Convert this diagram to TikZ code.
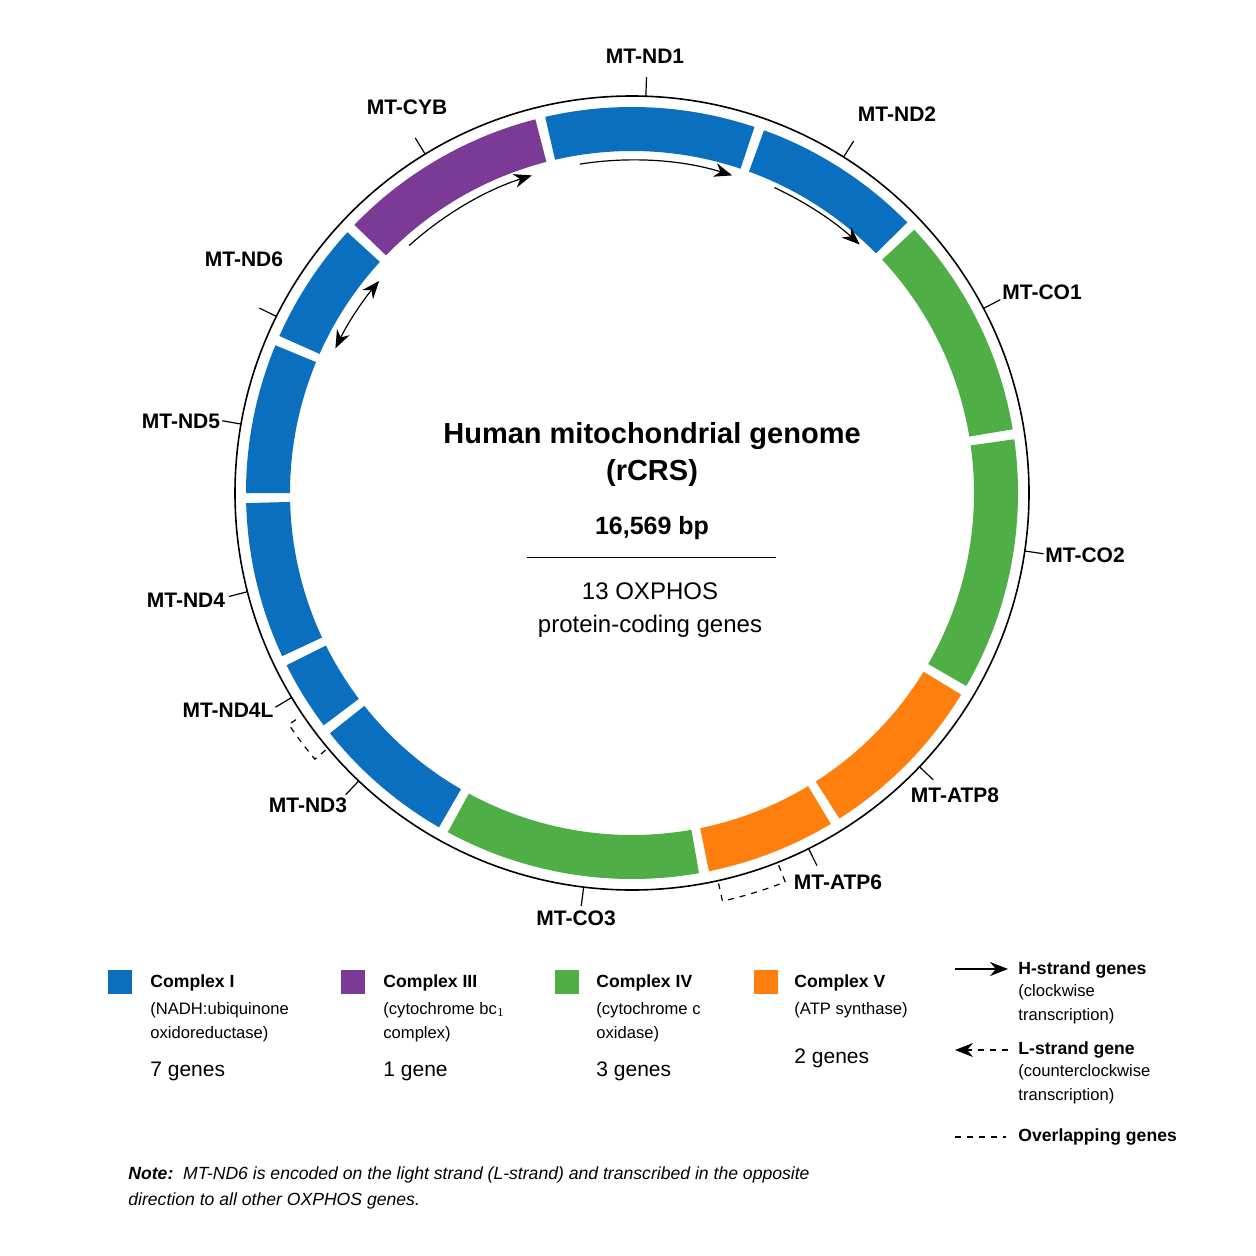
\documentclass[tikz,border=0pt]{standalone}
\usepackage{fontspec}
\setmainfont{Liberation Sans}
\usetikzlibrary{arrows.meta, calc}
\definecolor{cI}{HTML}{0A6FBF}
\definecolor{cIII}{HTML}{7B3A96}
\definecolor{cIV}{HTML}{50AE47}
\definecolor{cV}{HTML}{FF7F0E}

\begin{document}
\begin{tikzpicture}[x=0.5pt, y=-0.5pt,
					>={Stealth[length=9pt, width=7pt]},
					genelabel/.style={font=\fontsize{10.5}{13}\selectfont\bfseries},
					legtitle/.style={font=\fontsize{8.8}{11}\selectfont\bfseries, anchor=west, inner sep=0pt},
					legtext/.style={font=\fontsize{8.3}{12}\selectfont, anchor=north west, align=left, inner sep=0pt},
					legcount/.style={font=\fontsize{10.5}{12}\selectfont, anchor=west, inner sep=0pt},
					tick/.style={semithick},
					strand/.style={->, semithick}]

	\useasboundingbox (0,0) rectangle (1255,1256);
	\coordinate (c) at (632,493);

	% outer ring of the genome
	\draw[thick] (c) circle[radius=397];

	% gene blocks: start angle / end angle / colour
	\foreach \s/\e/\col in {-103/-71.5/cI, -70/-44.5/cI, -43/-9.5/cIV, -8/30/cIV,
			31.5/57.5/cV, 59/78.5/cV, 80/118.5/cIV, 120/141.5/cI, 143/153.5/cI,
			155/178.5/cI, 180/202.5/cI, 204/222.5/cI, 224/255.5/cIII}
		\fill[\col] ($(c)+(\s:386)$) arc[start angle=\s, end angle=\e, radius=386]
			-- ($(c)+(\e:342)$) arc[start angle=\e, end angle=\s, radius=342] -- cycle;

	% gene labels and their ticks
	\node[genelabel] (nd1)  at (645,56)  {MT-ND1};
	\node[genelabel] (nd2)  at (897,114) {MT-ND2};
	\node[genelabel] (co1)  at (1042,292) {MT-CO1};
	\node[genelabel] (co2)  at (1085,555) {MT-CO2};
	\node[genelabel] (atp8) at (955,795) {MT-ATP8};
	\node[genelabel] (atp6) at (838,882) {MT-ATP6};
	\node[genelabel] (co3)  at (576,918) {MT-CO3};
	\node[genelabel] (nd3)  at (308,805) {MT-ND3};
	\node[genelabel] (nd4l) at (228,710) {MT-ND4L};
	\node[genelabel] (nd4)  at (186,600) {MT-ND4};
	\node[genelabel] (nd5)  at (181,421) {MT-ND5};
	\node[genelabel] (nd6)  at (244,259) {MT-ND6};
	\node[genelabel] (cyb)  at (407,107) {MT-CYB};
	\foreach \a in {-88, -57.8, -27.7, 8.4, 43.6, 63.6, 97, 133.5, 149, 165.6, 190, 206.4, 238.6}
		\draw[tick] ($(c)+(\a:397)$) -- ($(c)+(\a:416)$);

	% overlapping genes
	\draw[dashed, semithick] ($(c)+(140:400)$) -- ($(c)+(140:414)$)
		arc[start angle=140, end angle=146, radius=414] -- ($(c)+(146:400)$);
	\draw[dashed, semithick] ($(c)+(68.5:400)$) -- ($(c)+(68.5:418)$)
		arc[start angle=68.5, end angle=77.5, radius=418] -- ($(c)+(77.5:400)$);

	% direction of transcription
	\draw[strand] ($(c)+(-99:333)$) arc[start angle=-99, end angle=-72.5, radius=333];
	\draw[strand] ($(c)+(-65:337)$) arc[start angle=-65, end angle=-47.5, radius=337];
	\draw[strand] ($(c)+(-132:333)$) arc[start angle=-132, end angle=-107.5, radius=333];
	\draw[strand, <->] ($(c)+(-154:330)$) arc[start angle=-154, end angle=-140, radius=330];

	% centre
	\node[font=\fontsize{14.5}{18.5}\selectfont\bfseries, align=center] (title) at (652,455)
		{Human mitochondrial genome\\(rCRS)};
	\node[font=\fontsize{12.5}{15}\selectfont\bfseries] (bp) at (652,528) {16,569 bp};
	\coordinate (rulel) at (527,557);
	\coordinate (ruler) at (776,557);
	\draw (rulel) -- (ruler);
	\node[font=\fontsize{12}{16.5}\selectfont, align=center] (oxphos) at (650,610)
		{13 OXPHOS\\protein-coding genes};

	% legend
	\fill[cI]   (108,970) rectangle (132,994);
	\fill[cIII] (341,970) rectangle (365,994);
	\fill[cIV]  (555,970) rectangle (579,994);
	\fill[cV]   (754,970) rectangle (778,994);
	\node[legtitle] (lg1) at (150,983) {Complex I};
	\node[legtitle] (lg3) at (383,983) {Complex III};
	\node[legtitle] (lg4) at (596,983) {Complex IV};
	\node[legtitle] (lg5) at (794,983) {Complex V};
	\node[legtext] (lt1) at (150,1002) {(NADH:ubiquinone\\oxidoreductase)};
	\node[legtext] (lt3) at (383,1002) {(cytochrome bc$_1$\\complex)};
	\node[legtext] (lt4) at (596,1002) {(cytochrome c\\oxidase)};
	\node[legtext] (lt5) at (794,1002) {(ATP synthase)};
	\node[legcount] (n1) at (150,1071) {7 genes};
	\node[legcount] (n3) at (383,1071) {1 gene};
	\node[legcount] (n4) at (596,1071) {3 genes};
	\node[legcount] (n5) at (794,1058) {2 genes};

	\coordinate (ha) at (955,969);
	\coordinate (hb) at (1008,969);
	\draw[strand] (ha) -- (hb);
	\node[legtitle] (hs) at (1018,970) {H-strand genes};
	\node[legtext] (hst) at (1018,984) {(clockwise\\transcription)};
	\coordinate (la) at (1008,1050);
	\coordinate (lb) at (955,1050);
	\draw[strand, dashed] (la) -- (lb);
	\node[legtitle] (ls) at (1018,1050) {L-strand gene};
	\node[legtext] (lst) at (1018,1064) {(counterclockwise\\transcription)};
	\coordinate (oa) at (955,1137);
	\coordinate (ob) at (1006,1137);
	\draw[dashed, semithick] (oa) -- (ob);
	\node[legtitle] (ov) at (1018,1137) {Overlapping genes};

	% note
	\node[font=\fontsize{8.8}{13}\selectfont\itshape, anchor=north west, align=left, inner sep=0pt] (note) at (128,1166)
		{\textbf{Note:}\ \ MT-ND6 is encoded on the light strand (L-strand) and transcribed in the opposite\\direction to all other OXPHOS genes.};
\end{tikzpicture}
\end{document}
